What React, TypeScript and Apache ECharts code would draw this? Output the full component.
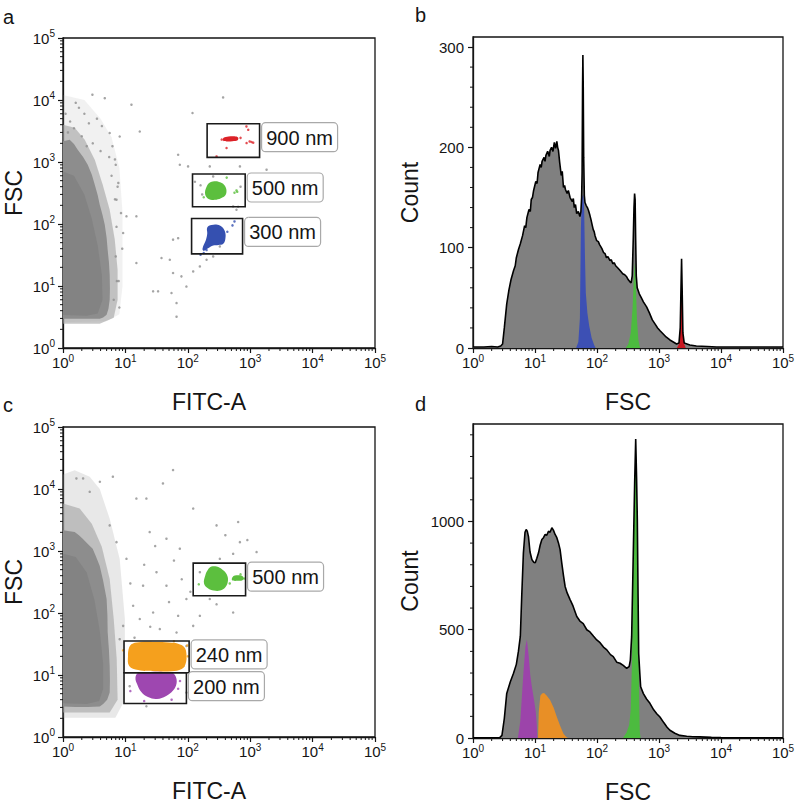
import React, { useEffect, useRef } from 'react';
import * as echarts from 'echarts';

const FONT = '"Liberation Sans", Arial, Helvetica, sans-serif';
const INK = '#151515';

// ---------- tick values ----------
const logMinor: number[] = [];
for (let d = 0; d < 5; d++) for (let k = 2; k <= 9; k++) logMinor.push(k * Math.pow(10, d));
const countBMajor = [0, 100, 200, 300];
const countBMinor = [20, 40, 60, 80, 120, 140, 160, 180, 220, 240, 260, 280];
const countDMajor = [0, 500, 1000];
const countDMinor = [100, 200, 300, 400, 600, 700, 800, 900, 1100, 1200, 1300, 1400];

// ---------- panel a : FITC-A vs FSC scatter ----------
const aHaloOuter = [[1, 12000], [2.2, 10000], [4, 5000], [6, 2500], [8, 800], [9, 150], [9, 10], [8, 3.5], [5, 2.7], [1, 2.6]];
const aHalo = [[1, 3980], [1.54, 3570], [2.23, 2290], [3.23, 1090], [4.33, 430], [5.6, 170], [6.75, 56], [7.5, 18.3], [7.5, 6.0], [6.5, 3.08], [3.88, 2.47], [1, 2.47]];
const aCore = [[1, 2160], [1.28, 2290], [1.5, 1950], [1.72, 1580], [2.1, 1200], [2.49, 904], [2.9, 620], [3.23, 430], [3.6, 290], [3.88, 205], [4.3, 140], [4.67, 97], [5.0, 60], [5.2, 38], [5.45, 24], [5.6, 15.2], [5.65, 9], [5.6, 6.0], [5.35, 4.3], [5.0, 3.44], [4.4, 3.1], [3.88, 2.97], [2.5, 2.95], [1.6, 2.97], [1, 2.97]];
const aInner = [[1, 700], [1.5, 600], [2.2, 300], [2.9, 120], [3.6, 45], [4.2, 15], [4.3, 6], [3.6, 3.6], [2.4, 3.3], [1, 3.4]];
const aGrayDots = [[368, 11000], [119, 6170], [12.5, 8400], [4.67, 10700], [2.96, 12200], [5.6, 2940], [8.1, 2580], [17, 3100], [70, 1310], [101, 850], [74.5, 904], [255, 586], [225, 850], [1830, 752], [684, 850], [533, 192], [603, 170], [15, 133], [10.4, 133], [70, 59], [51.5, 26.5], [37.9, 28.3], [58, 16.2], [79, 14.3], [95, 9.8], [122, 17.2], [156, 20.7], [200, 26.5], [255, 30], [326, 43.5], [54.8, 7.7], [66, 5.3], [66, 3.2], [27.8, 8.2], [33.4, 8.2], [15, 23.5], [288, 81], [9.2, 71.6], [7.2, 247], [7.7, 460], [6.8, 1100], [58, 56], [1.6, 9000], [2.2, 6000], [3.5, 5000], [1.3, 4500], [4.2, 3800], [6.2, 1800], [7, 900], [7.5, 400], [8.5, 150], [8.9, 40], [7.8, 12], [6.5, 6], [8, 4.5], [130, 480], [160, 420], [170, 300], [640, 190], [700, 400], [1.2, 3000], [1.5, 3500], [2, 2600], [2.6, 4200], [1.1, 6000], [1.8, 7500], [3, 2000], [4, 1500], [2.4, 1800], [5.5, 1200], [6, 600], [6.8, 250], [7.2, 90], [7, 30], [7.3, 12]];
const aRed = [[370, 2200], [375, 2450], [450, 2580], [560, 2600], [640, 2480], [630, 2250], [520, 2170], [420, 2150]];
const aRedDots = [[875, 2020], [1117, 2050], [870, 3750], [418, 1680], [289, 1230], [930, 3300], [980, 2150], [700, 2450], [350, 2300], [1050, 2100]];
const aGreen = [[190, 300], [200, 400], [230, 470], [280, 490], [330, 470], [380, 430], [415, 360], [400, 290], [340, 260], [270, 245], [220, 250]];
const aGreenDots = [[603, 348], [560, 320], [180, 270], [420, 560], [620, 330]];
const aBlue = [[205, 88], [240, 96], [300, 97], [350, 90], [395, 75], [400, 58], [370, 48], [310, 46], [255, 45], [215, 41], [180, 37], [172, 40], [195, 55], [205, 70]];
const aBlueDots = [[520, 95], [560, 110], [200, 38], [180, 34], [430, 75], [160, 32]];
const aGates = [[204, 1186, 1414, 4150], [119, 190, 831, 640], [115, 33, 755, 123]];
const aGateLabels = ['900 nm', '500 nm', '300 nm'];

// ---------- panel b : FSC histogram ----------
const bGray = [[1, 1], [1.5, 1], [2, 1.5], [2.5, 1], [2.8, 2], [3.0, 4], [3.2, 20], [3.5, 44], [3.8, 58], [4.1, 68], [4.5, 77], [4.8, 82], [5.0, 90], [5.4, 98], [5.8, 104], [6.3, 112], [6.8, 122], [7.1, 120], [7.4, 130], [8.0, 138], [8.4, 136], [8.7, 148], [9.1, 150], [9.5, 157], [10.3, 166], [10.8, 164], [11.2, 175], [12.1, 183], [12.6, 180], [13, 186], [14, 190], [14.5, 186], [15, 192], [16, 196], [17, 191], [17.5, 197], [18.5, 200], [19.5, 196], [20.5, 205], [21.5, 199], [22.5, 206], [23.2, 200], [23.9, 197], [25, 185], [26.5, 172], [27.5, 176], [28.8, 160], [30, 162], [31, 158], [33, 154], [34.5, 157], [36.8, 150], [40, 146], [41.5, 149], [43, 140], [45, 143], [47, 134], [50, 136], [53, 131], [55, 136], [56.5, 150], [57.5, 175], [58.5, 260], [59.2, 292], [60, 260], [61, 190], [62.5, 152], [64, 145], [67, 142], [70, 140], [73, 137], [77, 132], [80, 128], [84, 122], [87, 118], [90, 116], [93, 112], [99, 107], [105, 106], [110, 103], [115, 101], [120, 99], [128, 95], [135, 94], [142, 90], [150, 91], [162, 87], [170, 88], [180, 84], [190, 85], [200, 82], [215, 80], [230, 78], [245, 76], [260, 74], [280, 73], [301, 71], [320, 68], [340, 66], [355, 65], [370, 72], [385, 110], [395, 140], [404, 154], [412, 148], [420, 110], [430, 72], [445, 60], [481, 54], [520, 50], [560, 46], [631, 41], [700, 35], [780, 28], [861, 24], [950, 20], [1050, 17], [1170, 14], [1300, 11], [1500, 8], [1700, 6], [1923, 4], [2100, 5], [2200, 20], [2280, 70], [2313, 89], [2360, 60], [2430, 15], [2550, 5], [3146, 3], [4000, 2], [6000, 1.5], [8500, 1], [20000, 1], [100000, 1]];
const bBlue = [[46, 0], [50, 6], [53, 30], [55, 120], [57, 150], [60, 153], [62, 140], [64, 90], [66, 55], [70, 35], [75, 22], [82, 10], [90, 3], [95, 0]];
const bGreen = [[290, 0], [320, 4], [350, 15], [375, 40], [395, 75], [408, 85], [420, 70], [440, 30], [465, 8], [495, 0]];
const bRed = [[1950, 0], [2100, 4], [2200, 19], [2280, 68], [2313, 87], [2360, 58], [2430, 14], [2550, 4], [2700, 0]];

// ---------- panel c : FITC-A vs FSC scatter ----------
const cHaloOuter = [[1, 17200], [1.54, 20000], [2.68, 15800], [3.88, 10000], [5.6, 3300], [8.1, 740], [9.8, 80], [9.8, 4], [6.9, 2.05], [1, 2.05]];
const cHalo = [[1, 5820], [1.85, 4830], [2.89, 2750], [4.18, 1170], [5.6, 355], [6.5, 80], [7.26, 17.9], [7.5, 4.0], [5.6, 2.48], [1, 2.48]];
const cCore = [[1, 2160], [1.54, 2020], [1.8, 1800], [2.07, 1578], [2.5, 1300], [2.99, 1087], [3.4, 800], [3.88, 575], [4.4, 330], [5.0, 168], [5.15, 90], [5.2, 49], [5.45, 25], [5.6, 13.8], [5.65, 8], [5.6, 5.2], [5.1, 4.0], [4.4, 3.4], [3.88, 3.1], [2.5, 3.05], [1.6, 3.05], [1, 3.1]];
const cInner = [[1, 900], [1.6, 800], [2.4, 450], [3.2, 160], [3.9, 50], [4.4, 15], [4.4, 6], [3.8, 3.8], [2.4, 3.4], [1, 3.5]];
const cGrayDots = [[58, 20200], [40, 12300], [21.7, 7000], [15, 7000], [122, 4830], [289, 2590], [641, 2940], [684, 1390], [1265, 960], [533, 900], [326, 748], [156, 455], [225, 168], [156, 90], [122, 62], [533, 102], [289, 138], [66, 48.5], [27.8, 102], [19.2, 276], [13.3, 131], [9.2, 62], [8.1, 37.8], [10.4, 748], [7.2, 1390], [5.6, 2590], [3.9, 13100], [6.3, 15800], [2.1, 14800], [1.64, 14800], [2.68, 9000], [24.5, 2020], [45.5, 1580], [74.5, 1090], [95, 168], [45.5, 276], [31.5, 455], [17, 80], [35.6, 55], [95, 29.4], [138, 13.9], [95, 5.2], [21.7, 3.13], [11.7, 6.6], [12, 300], [20, 600], [30, 1200], [60, 700], [80, 350], [110, 220], [400, 1800], [900, 1500], [14, 40], [25, 60], [50, 150], [70, 90]];
const cGreen = [[182, 300], [190, 400], [210, 500], [240, 560], [290, 560], [360, 500], [420, 420], [440, 330], [400, 260], [330, 230], [260, 230], [210, 250]];
const cGreenSmall = [[510, 340], [540, 395], [650, 405], [770, 385], [760, 340], [620, 330]];
const cGreenDots = [[800, 360], [700, 420], [150, 290], [470, 300]];
const cOrange = [[11.5, 14], [11, 20], [11.5, 28], [13, 32], [18, 34], [30, 34], [50, 33.5], [70, 32], [88, 28], [95, 22], [92, 15], [80, 12.5], [55, 11.5], [30, 11.5], [16, 12]];
const cOrangeDots = [[100, 20], [9.2, 25], [60, 35], [85, 14], [98, 30]];
const cPurple = [[16, 10.8], [14.5, 9], [15.5, 7], [18, 5.3], [23, 4.4], [32, 4.1], [45, 4.6], [58, 5.6], [66, 7.3], [64, 9.5], [56, 10.9], [40, 11.2], [25, 11.2]];
const cPurpleDots = [[12, 5.5], [70, 6], [20, 3.8], [55, 4], [75, 8]];
const cGates = [[122, 190, 843, 637], [9.5, 10.9, 105, 35.4], [9.5, 3.47, 95, 10.9]];
const cGateLabels = ['500 nm', '240 nm', '200 nm'];

// ---------- panel d : FSC histogram ----------
const dGray = [[1, 1], [2, 1], [2.7, 2], [2.93, 12], [3.2, 90], [3.5, 206], [4.0, 260], [4.5, 299], [5.0, 340], [5.4, 400], [5.8, 470], [6.1, 650], [6.5, 855], [6.9, 950], [7.2, 963], [7.5, 955], [7.85, 930], [8.3, 860], [8.9, 824], [9.5, 812], [10.1, 809], [10.7, 830], [11.4, 855], [12.1, 890], [12.9, 917], [13.7, 925], [14.6, 940], [15.5, 936], [16.5, 955], [17.5, 950], [18.7, 971], [19.8, 960], [21.1, 940], [22.5, 925], [23.9, 901], [25.4, 870], [27, 809], [28.8, 750], [30.6, 700], [33, 670], [36.8, 639], [41, 610], [47.2, 561], [53, 540], [60, 528], [68.4, 500], [77, 490], [88, 470], [99, 453], [112, 440], [127, 420], [144, 407], [165, 385], [183, 376], [208, 350], [235, 345], [265, 335], [301, 322], [330, 330], [345, 360], [362, 468], [385, 855], [405, 1180], [421, 1381], [435, 1200], [447, 1010], [460, 650], [470, 391], [490, 300], [506, 237], [560, 205], [630, 180], [714, 160], [820, 130], [920, 112], [1035, 97], [1200, 70], [1350, 50], [1500, 36], [1800, 22], [2173, 12], [2800, 8], [3500, 6], [4560, 5], [7000, 3], [10000, 2], [30000, 1], [100000, 1]];
const dPurple = [[5.3, 0], [5.8, 80], [6.5, 300], [7.0, 420], [7.4, 455], [7.9, 380], [8.4, 290], [8.9, 237], [9.6, 180], [10.3, 120], [10.7, 60], [10.9, 0]];
const dOrange = [[11.2, 0], [11.5, 120], [12.2, 195], [13, 205], [14, 208], [15.5, 195], [17.5, 175], [20, 140], [22.5, 97], [25.5, 55], [28.8, 20], [32, 5], [34, 0]];
const dGreen = [[262, 0], [300, 25], [330, 60], [350, 130], [365, 330], [385, 800], [405, 1150], [421, 1370], [435, 1180], [447, 990], [460, 620], [470, 370], [480, 150], [490, 30], [505, 0]];

// ---------- colours ----------
const C = {
  grayFill: '#808080', dot: '#8e8e8e', core: '#8d8d8d', inner: '#838383', halo: '#a2a2a2',
  red: '#dc2127', green: '#5cbf3e', blue: '#3550b0', orange: '#f5a01d', purple: '#9e47b0',
  hBlue: '#3d50b4', hGreen: '#4cbb3f', hRed: '#c9161f', hPurple: '#9c44aa', hOrange: '#e88f26',
};

const supRich = {
  b: { fontSize: 15, fontFamily: FONT, color: INK, lineHeight: 19 },
  s: { fontSize: 10, fontFamily: FONT, color: INK, verticalAlign: 'top', lineHeight: 12 },
};
const logFmt = (v: number) => `{b|10}{s|${Math.round(Math.log10(v))}}`;

function logAxis(gridIndex: number, name: string, isX: boolean, namePad?: number[]) {
  return {
    type: 'log', logBase: 10, gridIndex, min: 1, max: 100000,
    name, nameLocation: 'middle', nameGap: isX ? 42 : 38,
    nameTextStyle: { fontSize: 23, fontFamily: FONT, color: INK, padding: namePad || 0 },
    axisLine: { show: true, lineStyle: { color: INK, width: 1.3 } },
    axisTick: { show: true, length: 5, inside: false, lineStyle: { color: INK, width: 1.2 } },
    splitLine: { show: false }, minorTick: { show: false },
    axisLabel: { formatter: logFmt, rich: supRich, margin: isX ? 5 : 8, color: INK },
  };
}
function linAxis(gridIndex: number, max: number, major: number[]) {
  return {
    type: 'value', gridIndex, min: 0, max,
    name: 'Count', nameLocation: 'middle', nameGap: 52,
    nameTextStyle: { fontSize: 23, fontFamily: FONT, color: INK },
    axisLine: { show: true, lineStyle: { color: INK, width: 1.3 } },
    axisTick: { show: true, length: 5, inside: false, customValues: major, lineStyle: { color: INK, width: 1.2 } },
    splitLine: { show: false },
    axisLabel: { customValues: major, formatter: (v: number) => String(v), fontSize: 15, fontFamily: FONT, color: INK, margin: 9 },
  };
}

function minorTicks(g: number, axis: 'x' | 'y', values: number[], other: number) {
  return {
    type: 'custom', xAxisIndex: g, yAxisIndex: g, silent: true, z: 6, clip: false,
    data: values.map(v => (axis === 'x' ? [v, other] : [other, v])),
    renderItem: (params: any, api: any) => {
      const p = api.coord([api.value(0), api.value(1)]);
      return {
        type: 'line',
        shape: axis === 'x' ? { x1: p[0], y1: p[1], x2: p[0], y2: p[1] + 3 } : { x1: p[0], y1: p[1], x2: p[0] - 3, y2: p[1] },
        style: { stroke: INK, lineWidth: 1 },
      };
    },
  };
}

function poly(g: number, pts: number[][], color: string, opacity: number, z: number, smooth = 0) {
  return {
    type: 'custom', xAxisIndex: g, yAxisIndex: g, silent: true, z, clip: true,
    data: [pts[0]],
    renderItem: (params: any, api: any) => ({
      type: 'polygon',
      shape: { points: pts.map(p => api.coord(p)), smooth },
      style: { fill: color, opacity },
    }),
  };
}

function dots(g: number, pts: number[][], color: string, size: number, z: number) {
  return {
    type: 'scatter', xAxisIndex: g, yAxisIndex: g, data: pts, symbol: 'circle', symbolSize: size,
    itemStyle: { color }, silent: true, z,
  };
}

function gates(g: number, boxes: number[][], labels: string[]) {
  return {
    type: 'custom', xAxisIndex: g, yAxisIndex: g, silent: true, z: 20, clip: false,
    data: boxes,
    renderItem: (params: any, api: any) => {
      const tl = api.coord([api.value(0), api.value(3)]);
      const br = api.coord([api.value(2), api.value(1)]);
      const bx = br[0] + 2;
      const by = tl[1] - 1;
      return {
        type: 'group',
        children: [
          { type: 'rect', shape: { x: tl[0], y: tl[1], width: br[0] - tl[0], height: br[1] - tl[1] }, style: { fill: 'none', stroke: '#1a1a1a', lineWidth: 1.6 } },
          { type: 'rect', shape: { x: bx, y: by, width: 76, height: 29, r: 4 }, style: { fill: '#fff', stroke: '#a9a9a9', lineWidth: 1.2 } },
          { type: 'text', style: { x: bx + 38, y: by + 15, text: labels[params.dataIndex], fontSize: 20, fontFamily: FONT, fill: INK, align: 'center', verticalAlign: 'middle' } },
        ],
      };
    },
  };
}

function area(g: number, data: number[][], color: string, z: number) {
  return {
    type: 'line', xAxisIndex: g, yAxisIndex: g, data, symbol: 'none', showSymbol: false, silent: true, z,
    lineStyle: { width: 0, color }, areaStyle: { color, opacity: 1 },
  };
}
function outline(g: number, data: number[][], z: number) {
  return {
    type: 'line', xAxisIndex: g, yAxisIndex: g, data, symbol: 'none', showSymbol: false, silent: true, z,
    lineStyle: { width: 1.6, color: '#000' },
  };
}

function buildOption(): any {
  const gridBase = { show: true, borderColor: INK, borderWidth: 1.3, backgroundColor: '#fff', containLabel: false, outerBoundsMode: 'none' };
  const letter = (t: string, x: number, y: number) => ({
    type: 'text', left: x, top: y, style: { text: t, fontSize: 20, fontFamily: FONT, fill: INK },
  });
  return {
    animation: false,
    backgroundColor: '#fff',
    grid: [
      { ...gridBase, left: 63, top: 38, width: 312, height: 310 },
      { ...gridBase, left: 473, top: 37, width: 310, height: 311 },
      { ...gridBase, left: 63, top: 427, width: 312, height: 310 },
      { ...gridBase, left: 473, top: 424, width: 310, height: 314 },
    ],
    xAxis: [
      logAxis(0, 'FITC-A', true, [0, 20, 0, 0]),
      logAxis(1, 'FSC', true),
      logAxis(2, 'FITC-A', true, [0, 20, 0, 0]),
      logAxis(3, 'FSC', true),
    ],
    yAxis: [
      logAxis(0, 'FSC', false),
      linAxis(1, 310, countBMajor),
      logAxis(2, 'FSC', false),
      linAxis(3, 1450, countDMajor),
    ],
    graphic: [
      letter('a', 3, 7), letter('b', 415, 5), letter('c', 3, 395), letter('d', 415, 394),
    ],
    series: [
      // minor ticks
      minorTicks(0, 'x', logMinor, 1), minorTicks(0, 'y', logMinor, 1),
      minorTicks(1, 'x', logMinor, 0), minorTicks(1, 'y', countBMinor, 1),
      minorTicks(2, 'x', logMinor, 1), minorTicks(2, 'y', logMinor, 1),
      minorTicks(3, 'x', logMinor, 0), minorTicks(3, 'y', countDMinor, 1),
      // panel a
      poly(0, aHaloOuter, C.halo, 0.15, 2),
      poly(0, aHalo, C.halo, 0.6, 3),
      poly(0, aCore, C.core, 1, 4),
      poly(0, aInner, C.inner, 1, 4.5),
      dots(0, aGrayDots, C.dot, 2.5, 5),
      poly(0, aRed, C.red, 1, 6, 0.4),
      poly(0, aGreen, C.green, 1, 6, 0.4),
      poly(0, aBlue, C.blue, 1, 6, 0.4),
      dots(0, aRedDots, C.red, 2.5, 7),
      dots(0, aGreenDots, C.green, 2.5, 7),
      dots(0, aBlueDots, C.blue, 2.5, 7),
      gates(0, aGates, aGateLabels),
      // panel b
      area(1, bGray, C.grayFill, 2),
      area(1, bBlue, C.hBlue, 3),
      area(1, bGreen, C.hGreen, 3),
      area(1, bRed, C.hRed, 3),
      outline(1, bGray, 4),
      // panel c
      poly(2, cHaloOuter, C.halo, 0.25, 2),
      poly(2, cHalo, C.halo, 0.6, 3),
      poly(2, cCore, C.core, 1, 4),
      poly(2, cInner, C.inner, 1, 4.5),
      dots(2, cGrayDots, C.dot, 2.5, 5),
      poly(2, cOrange, C.orange, 1, 6, 0.4),
      poly(2, cPurple, C.purple, 1, 6, 0.4),
      poly(2, cGreen, C.green, 1, 6, 0.4),
      poly(2, cGreenSmall, C.green, 1, 6, 0.4),
      dots(2, cOrangeDots, C.orange, 2.5, 7),
      dots(2, cPurpleDots, C.purple, 2.5, 7),
      dots(2, cGreenDots, C.green, 2.5, 7),
      gates(2, cGates, cGateLabels),
      // panel d
      area(3, dGray, C.grayFill, 2),
      area(3, dPurple, C.hPurple, 3),
      area(3, dOrange, C.hOrange, 3),
      area(3, dGreen, C.hGreen, 3),
      outline(3, dGray, 4),
    ],
  };
}

export default function App() {
  const ref = useRef<HTMLDivElement>(null);
  useEffect(() => {
    const chart = echarts.init(ref.current!, null, { renderer: 'svg' });
    chart.setOption(buildOption());
    return () => chart.dispose();
  }, []);
  return (
    <div
      ref={ref}
      style={{ position: 'fixed', left: 0, top: 0, width: 800, height: 803, background: '#fff' }}
    />
  );
}
